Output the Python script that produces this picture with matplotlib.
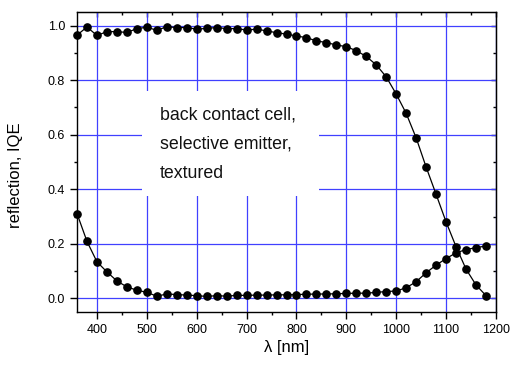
import matplotlib
matplotlib.use("Agg")
import matplotlib.pyplot as plt
from matplotlib.ticker import MultipleLocator, FormatStrFormatter
from matplotlib.patches import Rectangle

plt.rcParams['font.family'] = ['Liberation Sans', 'DejaVu Sans']

wavelength = [360, 380, 400, 420, 440, 460, 480, 500, 520, 540, 560, 580, 600, 620,
              640, 660, 680, 700, 720, 740, 760, 780, 800, 820, 840, 860, 880, 900,
              920, 940, 960, 980, 1000, 1020, 1040, 1060, 1080, 1100, 1120, 1140,
              1160, 1180]

iqe = [0.965, 0.995, 0.964, 0.978, 0.978, 0.975, 0.989, 0.994, 0.983, 0.996, 0.993,
       0.993, 0.987, 0.990, 0.993, 0.989, 0.989, 0.984, 0.987, 0.981, 0.974, 0.969,
       0.962, 0.956, 0.944, 0.938, 0.929, 0.923, 0.908, 0.887, 0.856, 0.812, 0.749,
       0.678, 0.588, 0.481, 0.381, 0.280, 0.189, 0.107, 0.049, 0.010]

reflection = [0.311, 0.209, 0.134, 0.097, 0.064, 0.042, 0.030, 0.022, 0.008, 0.016,
              0.014, 0.012, 0.010, 0.007, 0.010, 0.008, 0.011, 0.011, 0.012, 0.012,
              0.013, 0.013, 0.014, 0.015, 0.016, 0.016, 0.017, 0.018, 0.019, 0.019,
              0.022, 0.025, 0.027, 0.039, 0.061, 0.094, 0.122, 0.146, 0.167, 0.179,
              0.186, 0.192]

annotation = "back contact cell,\nselective emitter,\ntextured"
xlabel = "λ [nm]"
ylabel = "reflection, IQE"

W, H = 514, 365
fig = plt.figure(figsize=(W/100, H/100), dpi=100)
ax = fig.add_axes([77/W, 1-312/H, (496-77)/W, (312-12)/H])

ax.set_xlim(360, 1200)
ax.set_ylim(-0.05, 1.05)

ax.xaxis.set_major_locator(MultipleLocator(100))
ax.xaxis.set_minor_locator(MultipleLocator(50))
ax.yaxis.set_major_locator(MultipleLocator(0.2))
ax.yaxis.set_minor_locator(MultipleLocator(0.1))
ax.yaxis.set_major_formatter(FormatStrFormatter('%.1f'))

ax.grid(True, which='major', color='#4040ff', linewidth=0.9, zorder=1)
ax.set_axisbelow(True)

for s in ax.spines.values():
    s.set_linewidth(1.0)
    s.set_color('black')

ax.tick_params(which='major', direction='out', length=5, width=1.0, labelsize=9,
               colors='black', pad=3.5)
ax.tick_params(which='minor', direction='out', length=2.5, width=1.0)

top = ax.secondary_xaxis('top')
top.xaxis.set_major_locator(MultipleLocator(100))
top.xaxis.set_minor_locator(MultipleLocator(50))
top.tick_params(which='major', direction='in', length=3.5, width=1.0, labeltop=False)
top.tick_params(which='minor', direction='in', length=2.2, width=1.0)
right = ax.secondary_yaxis('right')
right.yaxis.set_major_locator(MultipleLocator(0.2))
right.yaxis.set_minor_locator(MultipleLocator(0.1))
right.tick_params(which='major', direction='in', length=3.5, width=1.0, labelright=False)
right.tick_params(which='minor', direction='in', length=2.2, width=1.0)

ax.plot(wavelength, iqe, color='black', linewidth=0.9, marker='o', markersize=5.2,
        zorder=3, clip_on=False)
ax.plot(wavelength, reflection, color='black', linewidth=0.9, marker='o', markersize=5.2,
        zorder=3, clip_on=False)

# white background box behind the annotation (hides the grid)
ax.add_patch(Rectangle((0.155, 0.387), 0.578 - 0.155, 0.737 - 0.387,
                       transform=ax.transAxes, facecolor='white', edgecolor='none',
                       zorder=1.8))
ax.text(0.198, 0.684, annotation, fontsize=12.8, linespacing=1.93, va='top', ha='left',
        color='#111111', transform=ax.transAxes, zorder=2)

ax.set_xlabel(xlabel, fontsize=12)
ax.set_ylabel(ylabel, fontsize=12)
ax.xaxis.set_label_coords(0.5, (312 - 340) / 300)
ax.yaxis.set_label_coords((23 - 77) / 419, 1 - (175 - 12) / 300)

fig.savefig("out.png", dpi=100)
